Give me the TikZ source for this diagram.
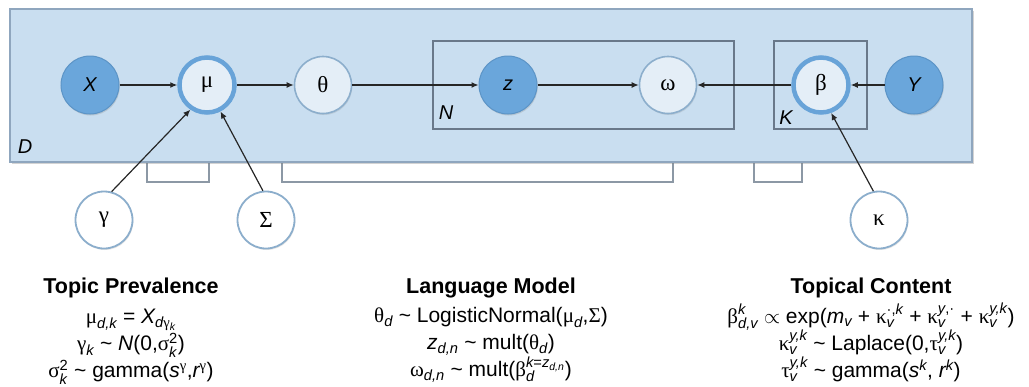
\documentclass[tikz,border=0pt]{standalone}
\usepackage{amsmath}
\usepackage{fontspec}
\setmainfont{Liberation Sans}
\newfontfamily\gr{Liberation Serif}
\usetikzlibrary{arrows.meta,shadows}
\definecolor{Dfill}{RGB}{201,222,240}
\definecolor{Ddraw}{RGB}{143,166,190}
\definecolor{obsfill}{RGB}{106,166,219}
\definecolor{obsdraw}{RGB}{92,148,198}
\definecolor{latfill}{RGB}{228,238,247}
\definecolor{latdraw}{RGB}{140,174,204}
\definecolor{ringdraw}{RGB}{104,163,216}
\definecolor{platedraw}{RGB}{105,120,138}
\definecolor{tabdraw}{RGB}{140,152,165}
\newcommand{\T}[1]{\text{#1}}
\newcommand{\I}[1]{\text{\itshape #1}}
\newcommand{\G}[1]{\text{\gr #1}}
\newcommand{\tl}{\T{ \textasciitilde{} }}
\newcommand{\eqhead}[1]{{\fontsize{21.5}{27}\selectfont\bfseries #1}}
\newcommand{\fixlines}{\setlength{\lineskiplimit}{-60pt}}
\tikzset{
  nodefont/.style={font=\fontsize{20}{24}\selectfont},
  grfont/.style={font=\fontsize{23}{26}\selectfont\gr},
  obsnode/.style={circle, minimum size=58pt, inner sep=0pt, fill=obsfill, draw=obsdraw, line width=1pt, nodefont,
    drop shadow={opacity=0.25, shadow xshift=0.8pt, shadow yshift=-1.5pt}},
  latnode/.style={circle, minimum size=57pt, inner sep=0pt, fill=latfill, draw=latdraw, line width=1.6pt, grfont,
    drop shadow={opacity=0.2, shadow xshift=0.8pt, shadow yshift=-1.5pt}},
  ringnode/.style={circle, minimum size=55pt, inner sep=0pt, fill=latfill, draw=ringdraw, line width=4.5pt, grfont,
    drop shadow={opacity=0.2, shadow xshift=0.8pt, shadow yshift=-1.5pt}},
  hypnode/.style={circle, minimum size=57pt, inner sep=0pt, fill=white, draw=latdraw, line width=1.8pt, grfont,
    drop shadow={opacity=0.2, shadow xshift=0.8pt, shadow yshift=-1.5pt}},
  arr/.style={-{Latex[length=7pt,width=6pt]}, line width=1.2pt, black!85},
  platebox/.style={draw=platedraw, line width=1.2pt},
  platelabel/.style={font=\fontsize{20}{24}\selectfont\itshape, inner sep=0pt},
  tabline/.style={draw=tabdraw, line width=1.6pt},
  eqgroup/.style={font=\fontsize{21}{27}\selectfont, align=center, inner sep=0pt, anchor=north,
    execute at begin node=\fixlines},
}
\begin{document}
\begin{tikzpicture}[x=1pt,y=-1pt]
\useasboundingbox (0,0) rectangle (1029,386);
% tabs below the D plate
\draw[tabline] (147,160) -- (147,182) -- (209,182) -- (209,160);
\draw[tabline] (282,160) -- (282,182) -- (673,182) -- (673,160);
\draw[tabline] (754,160) -- (754,182) -- (802,182) -- (802,160);
% D plate
\path[fill=Dfill, draw=Ddraw, line width=1.2pt,
  drop shadow={opacity=0.35, shadow xshift=1.5pt, shadow yshift=-2pt}]
  (10,9) rectangle (972,162);
\node[platelabel] (Dl) at (25,147) {D};
% N and K plates
\draw[platebox] (433,41) rectangle (734,129);
\node[platelabel] (Nl) at (446,113) {N};
\draw[platebox] (774,41) rectangle (867,129);
\node[platelabel] (Kl) at (786,118) {K};
% nodes
\node[obsnode] (X) at (90,85) {\itshape X};
\node[ringnode] (mu) at (207,85) {μ};
\node[latnode] (theta) at (323,85) {θ};
\node[obsnode] (z) at (508,85) {\itshape z};
\node[latnode] (omega) at (668,85) {ω};
\node[ringnode] (beta) at (821,85) {β};
\node[obsnode] (Y) at (914,85) {\itshape Y};
\node[hypnode] (gamma) at (104,220) {γ};
\node[hypnode] (Sigma) at (266,220) {Σ};
\node[hypnode] (kappa) at (879,220) {κ};
% edges
\draw[arr] (X) -- (mu);
\draw[arr] (mu) -- (theta);
\draw[arr] (theta) -- (z);
\draw[arr] (z) -- (omega);
\draw[arr] (beta) -- (omega);
\draw[arr] (Y) -- (beta);
\draw[arr] (gamma.75) -- (mu.236);
\draw[arr] (Sigma.96) -- (mu.297);
\draw[arr] (kappa.101) -- (beta.290);
% equations
\node[eqgroup] (tp) at (131,278) {\eqhead{Topic Prevalence}\\[3pt]
  $\G{μ}_{\I{d,k}}\T{ = }\I{X}_{\I{d}\G{γ}_{\I{k}}}$\\
  $\G{γ}_{\I{k}}\tl\I{N}\T{(0,}\G{σ}^{\T{2}}_{\I{k}}\T{)}$\\
  $\G{σ}^{\T{2}}_{\I{k}}\tl\T{gamma(}\I{s}^{\G{γ}}\T{,}\I{r}^{\G{γ}}\T{)}$};
\node[eqgroup] (lm) at (491,278) {\eqhead{Language Model}\\[2pt]
  $\G{θ}_{\I{d}}\tl\T{LogisticNormal(}\G{μ}_{\I{d}}\T{,}\G{Σ}\T{)}$\\
  $\I{z}_{\I{d,n}}\tl\T{mult(}\G{θ}_{\I{d}}\T{)}$\\
  $\G{ω}_{\I{d,n}}\tl\T{mult(}\G{β}^{\smash[b]{\I{k}\T{=}\I{z}_{\I{d,n}}}}_{\I{d}}\T{)}$};
\node[eqgroup] (tc) at (871,278) {\eqhead{Topical Content}\\[3pt]
  $\G{β}^{\I{k}}_{\I{d,v}}\propto\T{exp(}\I{m}_{\I{v}}\T{ + }\G{κ}^{\T{·,}\I{k}}_{\I{v}}\T{ + }\G{κ}^{\I{y}\T{,·}}_{\I{v}}\T{ + }\G{κ}^{\I{y,k}}_{\I{v}}\T{)}$\\
  $\G{κ}^{\I{y,k}}_{\I{v}}\tl\T{Laplace(0,}\G{τ}^{\I{y,k}}_{\I{v}}\T{)}$\\
  $\G{τ}^{\I{y,k}}_{\I{v}}\tl\T{gamma(}\I{s}^{\I{k}}\T{, }\I{r}^{\I{k}}\T{)}$};
\end{tikzpicture}
\end{document}
